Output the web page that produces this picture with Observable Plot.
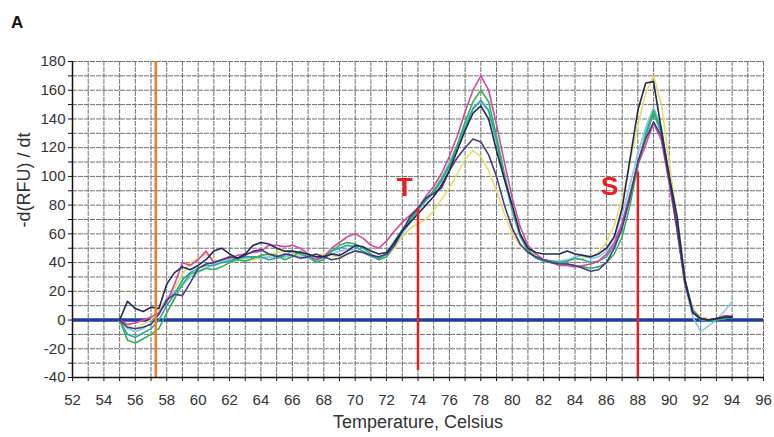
<!DOCTYPE html>
<html>
<head>
<meta charset="utf-8">
<script src="https://cdn.jsdelivr.net/npm/d3@7"></script>
<script src="https://cdn.jsdelivr.net/npm/@observablehq/plot@0.6"></script>
<style>
  html, body { margin: 0; padding: 0; background: #fff; }
  #title { height: 40px; box-sizing: border-box; padding: 13px 0 0 11px; font: bold 17px "Liberation Sans", Arial, sans-serif; color: #111; }
</style>
</head>
<body>
<div id="title">A</div>
<div id="chart"></div>
<script>
const temps = d3.range(55, 94.01, 0.5);

const seriesNames = ["run 1", "run 2", "run 3", "run 4", "run 5", "run 6", "run 7"];
const seriesColors = ["#e4df6a", "#86c9e6", "#2ba6a3", "#35b05c", "#d24aa3", "#4a3c82", "#262858"];

const run1 = [0,-4,-6,-3,0,8,14,22,32,40, 43,46,42,40,41,42,42,42,43,45, 47,48,47,45,44,45,46,45,44,46, 48,47,45,42,44,50,58,64,67,70, 76,84,92,102,112,118,114,104,90,74, 60,52,47,44,42,40,40,41,42,43, 44,47,54,66,84,110,136,158,170,150, 110,70,28,8,2,1,0,2,3];
const run2 = [0,-6,-8,-6,-2,5,15,20,24,30, 33,36,39,41,42,43,43,44,43,44, 43,44,45,44,43,41,43,46,48,49, 49,47,44,43,46,52,60,68,76,83, 90,99,110,122,136,148,152,145,124,98, 75,58,48,44,42,41,41,42,44,45, 43,44,48,58,74,94,116,134,148,134, 100,64,24,2,-8,-4,0,6,13];
const run3 = [0,-10,-12,-9,-6,0,10,18,28,33, 36,38,38,40,41,43,44,44,44,42, 43,45,48,46,44,42,44,48,50,52, 51,48,45,42,44,52,62,70,77,83, 89,97,107,120,134,147,153,146,125,100, 77,59,48,43,41,40,40,41,43,42, 40,41,44,52,66,84,110,128,144,130, 98,63,26,6,0,-1,0,1,2];
const run4 = [0,-14,-16,-13,-10,-6,5,15,25,32, 34,36,35,37,40,42,41,43,45,46, 45,42,44,48,45,40,42,48,52,54, 53,50,46,43,46,55,63,70,77,84, 90,98,108,122,138,152,160,152,128,102, 78,60,49,44,42,41,40,39,38,37, 36,37,40,46,58,80,108,130,146,132, 100,65,28,7,1,0,0,1,2];
const run5 = [0,-3,-2,0,2,5,12,25,40,38, 42,48,40,42,43,45,46,47,48,52, 52,51,52,50,46,42,44,50,54,58, 60,57,52,50,55,62,68,73,78,86, 93,102,114,128,145,160,170,160,136,110, 85,65,52,46,42,40,38,38,37,38, 39,41,46,54,68,88,108,122,137,125, 95,62,25,6,1,0,1,3,3];
const run6 = [0,-5,-6,-5,-3,4,14,18,17,26, 36,39,40,42,44,43,45,48,49,46, 44,46,45,43,44,46,44,42,43,46, 48,47,45,44,46,52,62,72,78,85, 88,92,104,113,120,126,124,115,100,80, 64,53,47,44,42,40,39,39,38,36, 34,35,40,50,64,86,110,126,138,128, 98,64,26,5,1,0,1,2,2];
const run7 = [0,13,8,6,9,8,25,33,37,35, 38,42,48,50,46,43,46,52,54,53, 50,48,48,47,46,44,44,46,45,48, 52,51,48,46,47,54,62,68,74,80, 86,94,104,118,132,144,149,140,118,98, 80,60,50,47,46,46,46,48,46,45, 44,46,50,58,78,112,146,165,166,132, 100,72,28,5,1,0,1,2,2];

const seriesValues = [run1, run2, run3, run4, run5, run6, run7];

// reference markers
const meltMarkers = [{t: 74, y1: -35, y2: 78, label: "T", lx: 73.15, ly: 92}, {t: 88, y1: -40, y2: 103, label: "S", lx: 86.2, ly: 93}];
const orangeLine = [57.3];
const zeroLine = [0];

const xTicks = d3.range(52, 96.01, 2);
const xGrid = d3.range(52, 96.01, 1);
const yTicks = d3.range(-40, 180.01, 20);
const yGrid = d3.range(-40, 180.01, 10);

const rows = [];
seriesNames.forEach((name, i) => {
  temps.forEach((t, j) => {
    const v = seriesValues[i][j];
    if (v != null) rows.push({series: name, t, v});
  });
});

const font = '"Liberation Sans", Arial, sans-serif';

const chart = Plot.plot({
  width: 774,
  height: 397,
  marginTop: 21,
  marginBottom: 60,
  marginLeft: 72,
  marginRight: 11,
  style: {fontFamily: font, fontSize: "15px", color: "#333", background: "#fff"},
  x: {domain: [52, 96]},
  y: {domain: [-40, 180]},
  color: {type: "ordinal", domain: seriesNames, range: seriesColors},
  marks: [
    Plot.gridX({ticks: xGrid, stroke: "#707070", strokeOpacity: 1, strokeWidth: 1, strokeDasharray: "5,1"}),
    Plot.gridY({ticks: yGrid, stroke: "#707070", strokeOpacity: 1, strokeWidth: 1, strokeDasharray: "5,1"}),
    Plot.ruleY(zeroLine, {stroke: "#1f3d9e", strokeWidth: 3.5}),
    Plot.line(rows, {x: "t", y: "v", z: "series", stroke: "series", strokeWidth: 1.6}),
    Plot.ruleX(orangeLine, {stroke: "#f47a20", strokeWidth: 2.5}),
    Plot.ruleX(meltMarkers, {x: "t", y1: "y1", y2: "y2", stroke: "#ee1c1c", strokeWidth: 2.5}),
    Plot.text(meltMarkers, {x: "lx", y: "ly", text: "label", fill: "#ee1c1c", fontSize: 26, fontWeight: "bold"}),
    Plot.ruleX([52], {stroke: "#111", strokeWidth: 1.5}),
    Plot.ruleY([-40], {stroke: "#111", strokeWidth: 1.5}),
    Plot.axisY({ticks: yTicks, tickSize: 0, tickPadding: 7, tickFormat: d => `${d}`, label: null, fontSize: 15}),
    Plot.axisY({ticks: yGrid, tickSize: 4, tickFormat: () => "", label: null, stroke: "#111"}),
    Plot.axisX({ticks: xTicks, tickSize: 0, tickPadding: 17, tickFormat: d => `${d}`, label: null, fontSize: 15}),
    Plot.axisX({ticks: xGrid, tickSize: 4, tickFormat: () => "", label: null, stroke: "#111"}),
    Plot.text(["Temperature, Celsius"], {frameAnchor: "bottom", dy: 50, fontSize: 18, fill: "#333"}),
    Plot.text(["-d(RFU) / dt"], {frameAnchor: "left", dx: -48, dy: 8, rotate: -90, fontSize: 18, fill: "#333"})
  ]
});
document.getElementById("chart").appendChild(chart);
</script>
</body>
</html>
